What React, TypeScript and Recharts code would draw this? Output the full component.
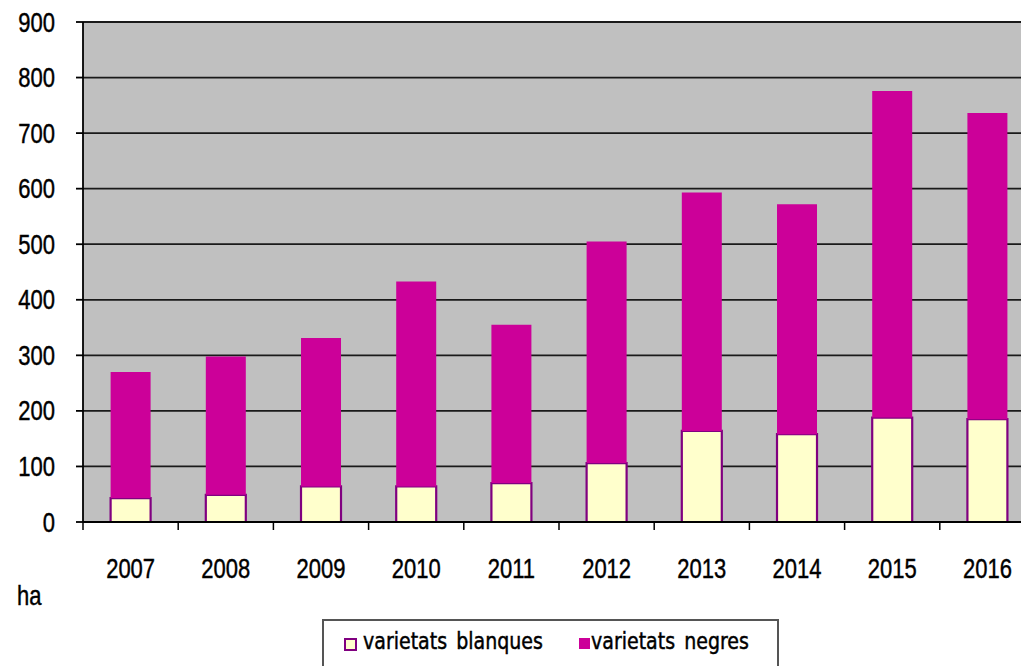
import React from 'react';
import { BarChart, Bar, XAxis, YAxis, CartesianGrid } from 'recharts';

// superfície (ha) per any
const years = ['2007', '2008', '2009', '2010', '2011', '2012', '2013', '2014', '2015', '2016'];
const blanques = [43, 49, 64, 64, 70, 106, 164, 158, 188, 185];
const negres = [227, 249, 267, 369, 285, 399, 429, 414, 588, 551];
const yTicks = [0, 100, 200, 300, 400, 500, 600, 700, 800, 900];

const seriesNames = ['varietats blanques', 'varietats negres'];

const data = years.map((year, i) => ({
  year,
  blanques: blanques[i],
  negres: negres[i],
}));

const CHART_W = 1040;
const CHART_H = 680;
const PLOT_LEFT = 83;
const PLOT_RIGHT = 1035;
const PLOT_BOTTOM = 522;
const STEP = (PLOT_RIGHT - PLOT_LEFT) / years.length;
const STRETCH = 1.22; // the original picture is stretched vertically

const axisFont = '"Liberation Sans", Arial, sans-serif';

const XTick = (props: any) => {
  const { x, payload } = props;
  const left = x - STEP / 2;
  return (
    <g>
      <line x1={left} y1={PLOT_BOTTOM} x2={left} y2={PLOT_BOTTOM + 8} stroke="#000" strokeWidth={1.5} />
      <text
        transform={`translate(${x},${PLOT_BOTTOM + 56}) scale(1,${STRETCH})`}
        textAnchor="middle"
        fontFamily={axisFont}
        fontSize={22}
        fill="#000"
        stroke="#000"
        strokeWidth={0.35}
      >
        {payload.value}
      </text>
    </g>
  );
};

const YTick = (props: any) => {
  const { x, y, payload } = props;
  return (
    <text
      transform={`translate(${x},${y + 9.5}) scale(1,${STRETCH})`}
      textAnchor="end"
      fontFamily={axisFont}
      fontSize={22}
      fill="#000"
      stroke="#000"
      strokeWidth={0.35}
    >
      {payload.value}
    </text>
  );
};

export default function App() {
  return (
    <div
      style={{
        position: 'absolute',
        left: 0,
        top: 0,
        width: 1021,
        height: 666,
        overflow: 'hidden',
        background: '#fff',
      }}
    >
      <BarChart
        width={CHART_W}
        height={CHART_H}
        data={data}
        margin={{ top: 22, right: CHART_W - PLOT_RIGHT, left: 0, bottom: CHART_H - PLOT_BOTTOM - 30 }}
        barCategoryGap="29%"
      >
        <CartesianGrid vertical={false} stroke="#1a1a1a" strokeWidth={1.8} fill="#C0C0C0" />
        <XAxis
          dataKey="year"
          height={30}
          tickLine={false}
          axisLine={{ stroke: '#000', strokeWidth: 1.8 }}
          tick={<XTick />}
          interval={0}
        />
        <YAxis
          width={PLOT_LEFT}
          domain={[0, 900]}
          ticks={yTicks}
          interval={0}
          tickSize={7}
          tickMargin={21}
          axisLine={{ stroke: '#000', strokeWidth: 1.8 }}
          tickLine={{ stroke: '#000', strokeWidth: 1.8 }}
          tick={<YTick />}
        />
        <Bar
          dataKey="blanques"
          name={seriesNames[0]}
          stackId="a"
          fill="#FFFFCC"
          stroke="#800080"
          strokeWidth={2.2}
          isAnimationActive={false}
        />
        <Bar
          dataKey="negres"
          name={seriesNames[1]}
          stackId="a"
          fill="#CC0099"
          isAnimationActive={false}
        />
      </BarChart>

      <div
        style={{
          position: 'absolute',
          left: 17,
          top: 581,
          fontFamily: axisFont,
          fontSize: 22,
          color: '#000',
          transform: `scaleY(${STRETCH})`,
          transformOrigin: 'top left',
          WebkitTextStroke: '0.35px #000',
        }}
      >
        ha
      </div>

      {/* llegenda */}
      <div
        style={{
          position: 'absolute',
          left: 322,
          top: 619,
          width: 453,
          height: 70,
          border: '2px solid #555',
          background: '#fff',
          fontFamily: '"DejaVu Sans", Verdana, sans-serif',
          fontSize: 19,
          color: '#000',
        }}
      >
        <div style={{ position: 'absolute', left: 20, top: 17, width: 9, height: 9, border: '2px solid #800080', background: '#FFFFCC' }} />
        <div
          style={{
            position: 'absolute',
            left: 39,
            top: 6,
            whiteSpace: 'nowrap',
            wordSpacing: 3,
            transform: `scaleY(${STRETCH})`,
            transformOrigin: 'top left',
            WebkitTextStroke: '0.4px #000',
          }}
        >
          {seriesNames[0]}
        </div>
        <div style={{ position: 'absolute', left: 255, top: 17, width: 11, height: 11, background: '#CC0099' }} />
        <div
          style={{
            position: 'absolute',
            left: 267,
            top: 6,
            whiteSpace: 'nowrap',
            wordSpacing: 3,
            transform: `scaleY(${STRETCH})`,
            transformOrigin: 'top left',
            WebkitTextStroke: '0.4px #000',
          }}
        >
          {seriesNames[1]}
        </div>
      </div>
    </div>
  );
}
